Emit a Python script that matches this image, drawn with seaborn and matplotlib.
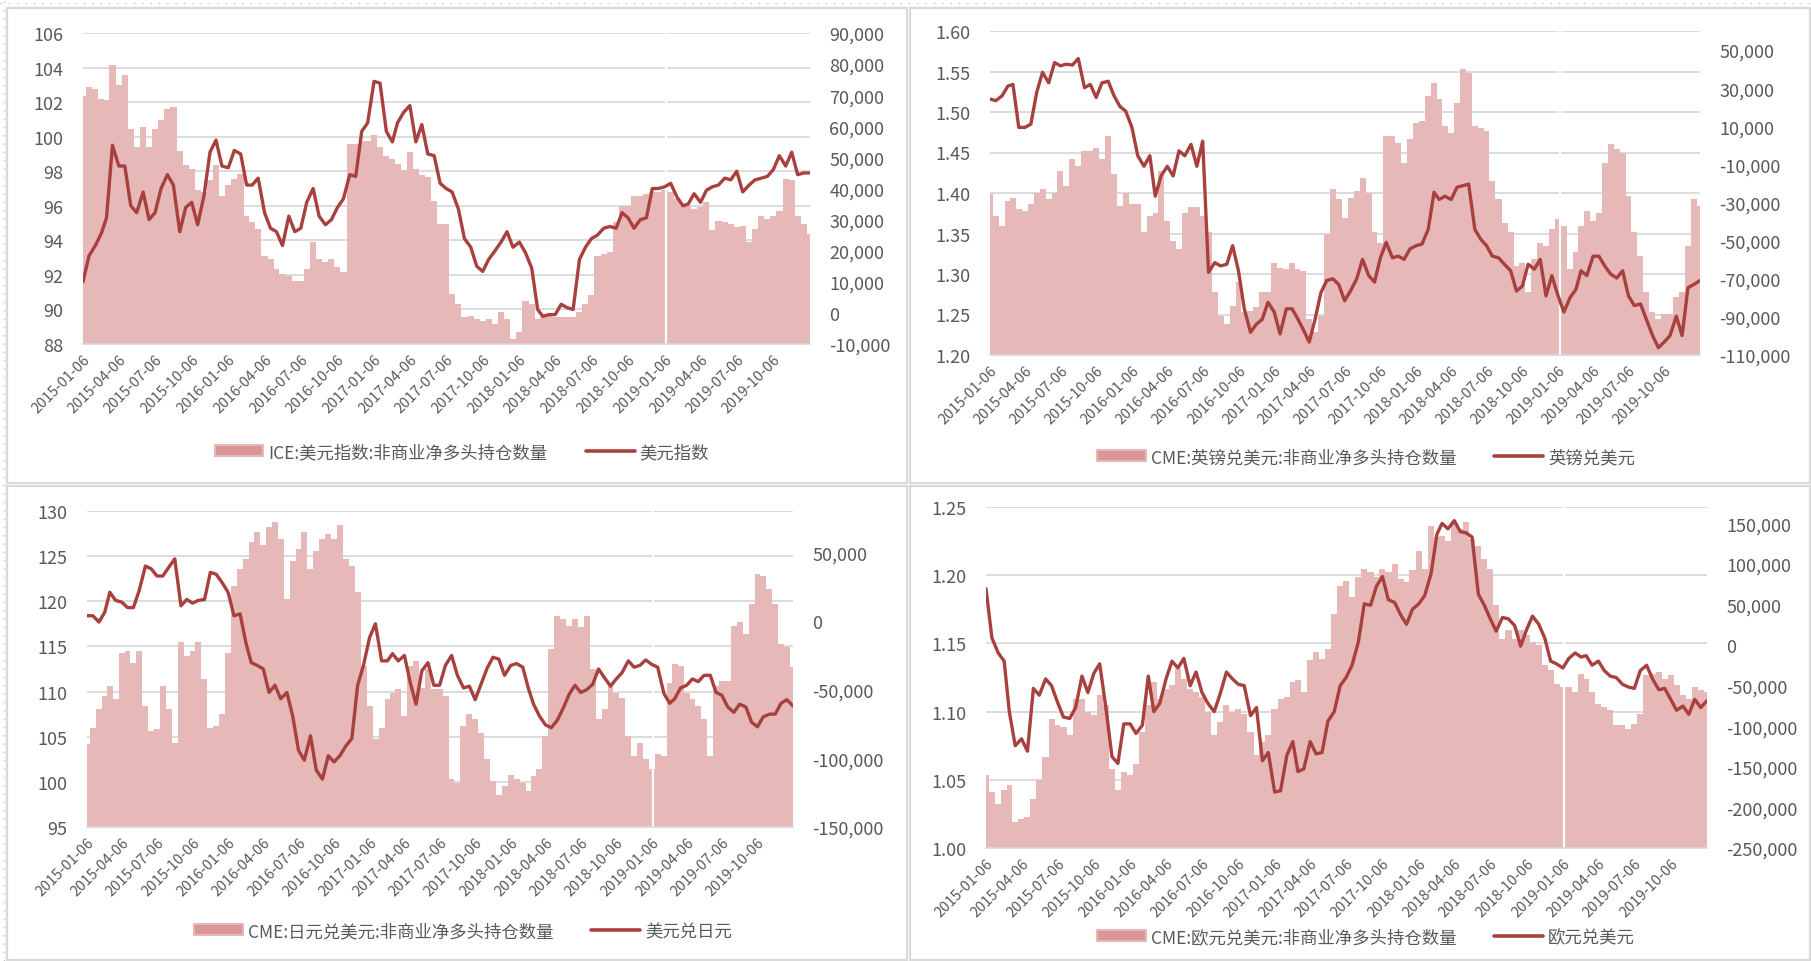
import numpy as np
import pandas as pd
import matplotlib
matplotlib.use('Agg')
import matplotlib.pyplot as plt
import seaborn as sns
from matplotlib.patches import Rectangle, Patch
from matplotlib.lines import Line2D
from matplotlib.ticker import FuncFormatter

# ---------------- data (semi-monthly readings, 2015-01-06 .. 2020-01-06) ----------------
month_starts = pd.date_range('2015-01-01', periods=61, freq='MS') + pd.Timedelta(days=5)
dates = month_starts.append(month_starts[:-1] + pd.Timedelta(days=15)).sort_values()
tick_dates = pd.date_range('2015-01-01', '2019-10-01', freq='3MS') + pd.Timedelta(days=5)
tick_labels = [d.strftime('%Y-%m-%d') for d in tick_dates]
gap_date = pd.Timestamp('2019-01-10')

dxy = [91.6, 93.1, 93.7, 94.4, 95.3, 99.5, 98.3, 98.3, 96.0, 95.6,
       96.8, 95.2, 95.6, 97.0, 97.8, 97.2, 94.5, 95.9, 96.2, 94.9,
       96.6, 99.1, 99.8, 98.3, 98.2, 99.2, 99.0, 97.2, 97.2, 97.6,
       95.6, 94.7, 94.5, 93.7, 95.4, 94.5, 94.7, 96.2, 97.0, 95.4,
       94.9, 95.2, 95.9, 96.4, 97.8, 97.7, 100.3, 100.8, 103.2, 103.1,
       100.3, 99.7, 100.8, 101.4, 101.8, 99.7, 100.7, 99.0, 98.9, 97.3,
       97.0, 96.8, 95.8, 94.1, 93.6, 92.5, 92.2, 92.9, 93.4, 93.9,
       94.5, 93.6, 93.9, 93.3, 92.4, 90.0, 89.6, 89.7, 89.7, 90.3,
       90.1, 90.0, 92.9, 93.6, 94.1, 94.3, 94.7, 94.8, 94.7, 95.6,
       95.3, 94.7, 95.2, 95.3, 97.0, 97.0, 97.1, 97.3, 96.5, 96.0,
       96.1, 96.7, 96.2, 96.9, 97.1, 97.2, 97.6, 97.5, 98.0, 96.8,
       97.2, 97.5, 97.6, 97.7, 98.1, 98.9, 98.3, 99.1, 97.8, 97.9,
       97.9]
dxy_pos = [69900, 72600, 72100, 68900, 68300, 79600, 73200, 76600, 59200, 53300,
           59700, 53300, 59200, 61900, 65600, 66200, 52200, 47400, 46300, 39400,
           38800, 42600, 47400, 37700, 41000, 43100, 44700, 31300, 29200, 27000,
           18400, 17400, 14100, 12500, 12000, 10400, 10400, 14100, 22700, 17400,
           16300, 17400, 14700, 13100, 54400, 54400, 55400, 55400, 57100, 53300,
           50600, 49500, 47900, 45800, 51700, 46300, 44200, 43600, 36100, 28600,
           28600, 6100, 2900, -1400, -900, -2000, -2500, -2000, -3600, 200,
           -2000, -8400, -6200, 3900, 2900, -2000, -1400, -900, -1400, -1400,
           -1400, -1400, 200, 2900, 5600, 18400, 19000, 19500, 29200, 34500,
           34500, 37700, 37700, 38300, 38800, 38800, 39400, 38800, 36700, 34500,
           34500, 33400, 34000, 35600, 26500, 29700, 29200, 28600, 27600, 28100,
           22700, 27000, 31300, 30200, 31300, 32900, 43100, 42600, 31300, 28600,
           25400]

gbp = [1.516, 1.514, 1.520, 1.532, 1.534, 1.481, 1.481, 1.485, 1.524, 1.549,
       1.536, 1.561, 1.557, 1.559, 1.558, 1.566, 1.530, 1.534, 1.518, 1.536,
       1.538, 1.520, 1.507, 1.501, 1.481, 1.446, 1.433, 1.446, 1.396, 1.421,
       1.433, 1.421, 1.452, 1.446, 1.460, 1.433, 1.464, 1.302, 1.314, 1.310,
       1.312, 1.335, 1.304, 1.257, 1.228, 1.238, 1.244, 1.265, 1.253, 1.226,
       1.257, 1.257, 1.246, 1.232, 1.216, 1.244, 1.277, 1.292, 1.294, 1.287,
       1.267, 1.279, 1.294, 1.318, 1.298, 1.290, 1.320, 1.339, 1.320, 1.322,
       1.318, 1.331, 1.335, 1.337, 1.355, 1.401, 1.392, 1.396, 1.392, 1.407,
       1.409, 1.411, 1.355, 1.343, 1.335, 1.322, 1.320, 1.312, 1.304, 1.279,
       1.285, 1.312, 1.306, 1.318, 1.273, 1.298, 1.273, 1.253, 1.271, 1.281,
       1.304, 1.298, 1.322, 1.322, 1.310, 1.300, 1.295, 1.304, 1.273, 1.261,
       1.263, 1.244, 1.224, 1.209, 1.216, 1.224, 1.248, 1.224, 1.283, 1.287,
       1.292]
gbp_pos = [-25600, -37000, -42200, -29100, -27400, -33500, -34400, -30900, -24800, -23000,
           -28300, -24800, -13400, -21300, -7300, -10800, -2900, -2900, -1200, -7300,
           4900, -15200, -31800, -24800, -30900, -30900, -45700, -37000, -35300, -13400,
           -39600, -50100, -54500, -35300, -32600, -32600, -37000, -45700, -77200, -89400,
           -93800, -84200, -71900, -87700, -86800, -85000, -77200, -77200, -61500, -64100,
           -65000, -61500, -65000, -65800, -91200, -98100, -89400, -46600, -23000, -28300,
           -37900, -27400, -23900, -16900, -24800, -45700, -51000, 4900, 4900, 1400,
           -9000, 3200, 11900, 12800, 25900, 32900, 24100, 10200, 6700, 22400,
           39900, 38100, 10200, 9300, 7600, -18700, -28300, -40500, -45700, -63200,
           -61500, -77200, -59700, -51000, -52700, -44000, -38700, -42200, -65000, -56200,
           -42200, -34400, -39600, -35300, -9000, 600, -2100, -3800, -26500, -45700,
           -58000, -77200, -87700, -91200, -88500, -88500, -79800, -77200, -52700, -28300,
           -31800]

jpy = [118.4, 118.4, 117.7, 118.8, 121.0, 120.1, 119.9, 119.3, 119.3, 121.2,
       123.9, 123.6, 122.8, 122.8, 123.8, 124.7, 119.5, 120.2, 119.8, 120.1,
       120.2, 123.2, 123.0, 122.1, 121.0, 118.4, 118.6, 115.4, 113.2, 112.9,
       112.5, 109.9, 110.7, 109.2, 109.9, 107.3, 103.5, 102.4, 105.1, 101.3,
       100.3, 102.9, 102.2, 102.9, 104.0, 104.8, 110.7, 112.9, 116.0, 117.5,
       113.4, 113.4, 114.2, 113.4, 114.0, 111.0, 108.6, 112.3, 113.2, 110.7,
       110.7, 112.9, 114.0, 111.8, 110.4, 110.6, 109.1, 110.8, 112.6, 113.8,
       113.6, 111.8, 112.9, 113.1, 112.7, 110.3, 108.6, 107.3, 106.3, 106.0,
       106.8, 108.1, 109.7, 110.7, 109.9, 110.2, 110.8, 112.5, 111.5, 110.6,
       111.4, 112.1, 113.4, 112.7, 112.9, 113.5, 113.0, 112.7, 109.8, 108.7,
       109.2, 110.4, 110.7, 111.4, 111.1, 111.8, 111.8, 109.9, 109.6, 108.3,
       107.7, 108.6, 108.3, 106.6, 106.1, 107.2, 107.5, 107.5, 108.7, 109.1,
       108.4]
jpy_pos = [-89900, -77700, -64400, -54600, -47300, -57100, -23000, -21800, -30300, -21800,
           -61900, -80200, -79000, -47300, -64400, -88700, -15700, -25400, -21800, -15700,
           -42500, -77700, -76500, -68000, -23000, 25700, 37800, 45100, 57300, 64600,
           54900, 68200, 71900, 59700, 15900, 43900, 52400, 64600, 37800, 51200,
           59700, 63400, 59700, 69500, 45100, 40300, 20800, -32700, -61900, -86200,
           -77700, -57100, -52200, -49800, -69200, -32700, -29100, -48500, -35200, -49800,
           -49800, -54600, -115000, -117900, -76500, -68000, -71700, -81400, -100800, -116700,
           -126400, -120300, -111800, -115400, -117900, -124000, -113000, -108100, -83800, -20600,
           3800, 1300, -3500, 1300, -4700, 3800, -35200, -71700, -64400, -47300,
           -52200, -55800, -83800, -98400, -88700, -100800, -108100, -97200, -98400, -44900,
           -31500, -32700, -52200, -57100, -61900, -71700, -98400, -47300, -43700, -43700,
           -3500, -1100, -9600, 12300, 34200, 33000, 23200, 12300, -16900, -19300,
           -33900]

eur = [1.190, 1.154, 1.143, 1.137, 1.100, 1.075, 1.080, 1.071, 1.117, 1.112,
       1.124, 1.119, 1.107, 1.096, 1.095, 1.103, 1.126, 1.114, 1.128, 1.135,
       1.102, 1.067, 1.062, 1.091, 1.091, 1.084, 1.090, 1.126, 1.100, 1.106,
       1.124, 1.137, 1.132, 1.139, 1.119, 1.129, 1.114, 1.106, 1.100, 1.113,
       1.129, 1.124, 1.120, 1.119, 1.097, 1.103, 1.064, 1.070, 1.041, 1.042,
       1.068, 1.078, 1.056, 1.058, 1.078, 1.069, 1.070, 1.093, 1.100, 1.119,
       1.125, 1.134, 1.151, 1.179, 1.178, 1.192, 1.199, 1.182, 1.180, 1.171,
       1.164, 1.175, 1.179, 1.185, 1.201, 1.230, 1.238, 1.234, 1.240, 1.232,
       1.231, 1.228, 1.186, 1.178, 1.168, 1.159, 1.169, 1.168, 1.163, 1.148,
       1.160, 1.170, 1.164, 1.154, 1.137, 1.135, 1.132, 1.139, 1.143, 1.140,
       1.141, 1.134, 1.137, 1.130, 1.126, 1.125, 1.120, 1.118, 1.117, 1.130,
       1.134, 1.124, 1.116, 1.117, 1.109, 1.101, 1.104, 1.098, 1.109, 1.103,
       1.108]
eur_pos = [-160500, -181000, -195400, -179000, -172800, -218000, -213800, -211800, -189200, -166700,
           -138000, -90800, -99000, -101000, -111300, -66200, -66200, -82600, -86700, -62100,
           -74400, -152300, -179000, -156400, -160500, -146200, -107200, -74400, -45700, -66200,
           -53900, -49800, -29300, -41600, -53900, -58000, -64100, -82600, -111300, -94900,
           -74400, -82600, -78500, -84600, -107200, -135900, -119500, -111300, -78500, -66200,
           -64100, -45700, -43600, -58000, -19000, -8700, -17000, -4700, 38400, 73300,
           79400, 58900, 83500, 93800, 89700, 83600, 93800, 89700, 100000, 81500,
           77400, 91800, 116400, 93800, 147100, 132800, 134800, 128700, 153300, 143000,
           151200, 130700, 122500, 106100, 93800, 48700, 7700, 17900, 7700, 17900,
           11800, 3600, -500, -25200, -31300, -47700, -51800, -51800, -58000, -35400,
           -41600, -58000, -72300, -76400, -80500, -99000, -99000, -103100, -96900, -84600,
           -37500, -35400, -33400, -41600, -37500, -49800, -62100, -66200, -51800, -55900,
           -58000]

bar_names = ['ICE:美元指数:非商业净多头持仓数量', 'CME:英镑兑美元:非商业净多头持仓数量',
             'CME:日元兑美元:非商业净多头持仓数量', 'CME:欧元兑美元:非商业净多头持仓数量']
line_names = ['美元指数', '英镑兑美元', '美元兑日元', '欧元兑美元']

# ---------------- style ----------------
sns.set_theme(style='white')
plt.rcParams['font.family'] = ['Noto Sans CJK SC', 'DejaVu Sans']
plt.rcParams['axes.unicode_minus'] = False

BAR = '#E6B8B7'
LINE = '#A8403E'
TXT = '#595959'
GRID = '#D9D9D9'
W, H = 1811, 962

fig = plt.figure(figsize=(W / 100, H / 100), dpi=100)
fig.patch.set_facecolor('white')


def fig_rect(l, t, r, b):
    return [l / W, 1 - b / H, (r - l) / W, (b - t) / H]


def draw_panel(box, line_vals, bar_vals, lyl, lticks, lfmt, ryl, rticks,
               bar_name, line_name, leg_xy):
    ax = fig.add_axes(fig_rect(*box))
    axb = ax.twinx()
    ax.set_zorder(3)
    axb.set_zorder(2)
    ax.patch.set_visible(False)

    # bars (secondary axis), filled from the axis floor
    axb.fill_between(dates, np.array(bar_vals, float), ryl[0], step='mid',
                     color=BAR, linewidth=0, zorder=2)
    axb.axvline(gap_date, color='white', lw=1.6, zorder=3)
    # gridlines of the primary axis, drawn beneath the bars
    axb.hlines(lticks, 0, 1, transform=ax.get_yaxis_transform(),
               color=GRID, lw=1.3, zorder=1)
    axb.set_ylim(*ryl)
    axb.set_yticks(rticks)
    axb.yaxis.set_major_formatter(FuncFormatter(lambda v, p: f'{v:,.0f}'))
    axb.tick_params(axis='y', length=0, pad=14, labelsize=13, labelcolor=TXT)

    sns.lineplot(x=dates, y=line_vals, ax=ax, color=LINE, lw=2.4, zorder=4)
    ax.set_ylim(*lyl)
    ax.set_yticks(lticks)
    ax.yaxis.set_major_formatter(FuncFormatter(lambda v, p: lfmt.format(v)))
    ax.tick_params(axis='y', length=0, pad=14, labelsize=13, labelcolor=TXT)
    ax.set_xlim(dates[0], dates[-1])
    ax.set_xticks(tick_dates)
    ax.set_xticklabels(tick_labels, rotation=45, ha='right', rotation_mode='anchor')
    ax.tick_params(axis='x', length=0, pad=6, labelsize=10.5, labelcolor=TXT)
    ax.set_xlabel('')
    ax.set_ylabel('')
    axb.set_ylabel('')
    for a in (ax, axb):
        for s in a.spines.values():
            s.set_visible(False)
    ax.spines['bottom'].set_visible(True)
    ax.spines['bottom'].set_color(GRID)

    handles = [Patch(facecolor='#D99694', edgecolor='#E6B8B7', lw=1.5),
               Line2D([], [], color=LINE, lw=2.6)]
    fig.legend(handles, [bar_name, line_name], loc='center',
               bbox_to_anchor=(leg_xy[0] / W, 1 - leg_xy[1] / H), ncol=2,
               frameon=False, fontsize=12.5, handlelength=2.8, handleheight=0.6,
               columnspacing=2.2, handletextpad=0.3, labelcolor=TXT)


draw_panel((83, 34, 810, 345), dxy, dxy_pos, (88, 106), np.arange(88, 106.1, 2), '{:.0f}',
           (-10000, 90000), np.arange(-10000, 90001, 10000), bar_names[0], line_names[0], (462, 453))
draw_panel((990, 32, 1700, 356), gbp, gbp_pos, (1.20, 1.60), np.arange(1.20, 1.601, 0.05), '{:.2f}',
           (-110000, 60000), np.arange(-110000, 50001, 20000), bar_names[1], line_names[1], (1366, 458))
draw_panel((87, 512, 793, 828), jpy, jpy_pos, (95, 130), np.arange(95, 130.1, 5), '{:.0f}',
           (-150000, 80000), np.arange(-150000, 50001, 50000), bar_names[2], line_names[2], (463, 932))
draw_panel((986, 508, 1707, 849), eur, eur_pos, (1.00, 1.25), np.arange(1.00, 1.251, 0.05), '{:.2f}',
           (-250000, 170000), np.arange(-250000, 150001, 50000), bar_names[3], line_names[3], (1366, 938))

# panel frames and sheet gridlines
for (l, t, r, b) in [(7, 9, 907, 484), (910, 9, 1810, 484), (7, 487, 907, 961), (910, 487, 1810, 961)]:
    fig.patches.append(Rectangle((l / W, 1 - b / H), (r - l) / W, (b - t) / H,
                                 transform=fig.transFigure, fill=False,
                                 edgecolor=GRID, lw=1.6))
fig.lines.append(Line2D([0, 1], [1 - 4 / H, 1 - 4 / H], transform=fig.transFigure,
                        color='#BFBFBF', lw=1, ls=(0, (1, 5))))
fig.lines.append(Line2D([4 / W, 4 / W], [0, 1], transform=fig.transFigure,
                        color='#BFBFBF', lw=1, ls=(0, (1, 5))))

fig.savefig('out.png', dpi=100, facecolor='white')
